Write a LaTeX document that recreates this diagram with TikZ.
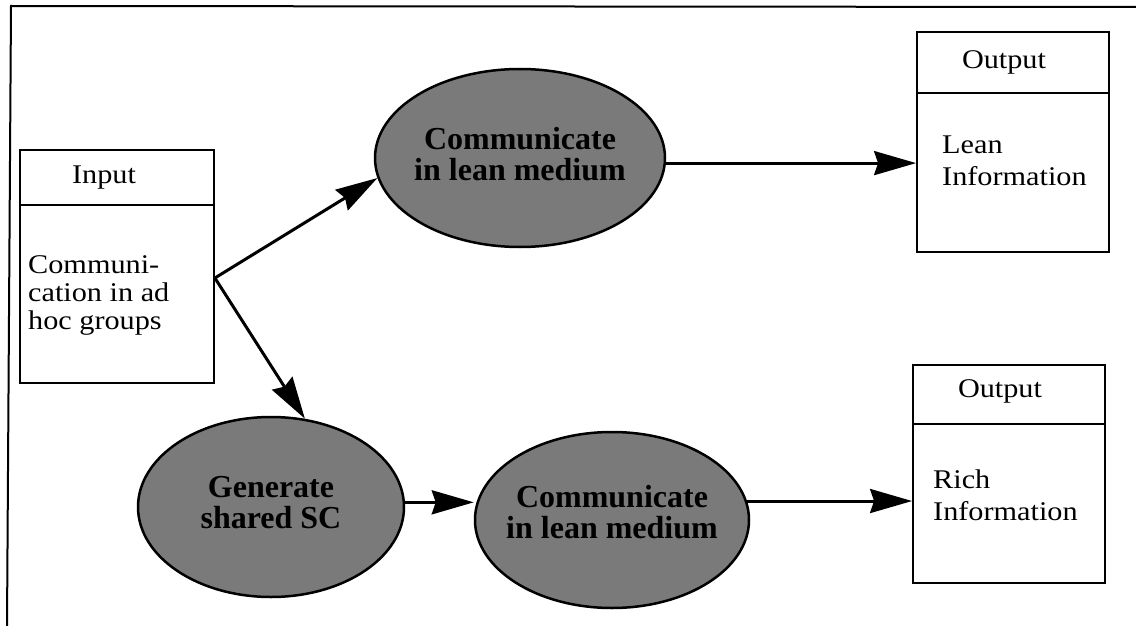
\documentclass[tikz,border=0pt]{standalone}
\usepackage{fontspec}
\setmainfont{Liberation Serif}
\newfontfamily\boxfont[FakeStretch=1.12]{Liberation Serif}
\usetikzlibrary{arrows.meta,shapes.geometric}
\newcommand\zbox[2]{\makebox[0pt]{\smash{\raisebox{#1}{\begin{tabular}{@{}c@{}}#2\end{tabular}}}}}
\begin{document}
\begin{tikzpicture}[x=1pt,y=-1pt,
  boxst/.style={draw, line width=1.8pt, inner sep=0pt},
  divider/.style={line width=1.8pt},
  ell/.style={ellipse, draw, line width=2.5pt, fill=black!52, inner sep=0pt,
    font=\fontsize{32}{30}\selectfont\bfseries, text=black},
  arr/.style={line width=3pt, -{Stealth[length=42pt,width=24pt,inset=4pt]}},
  title/.style={font=\boxfont\fontsize{27}{32}\selectfont, inner sep=0pt},
  body/.style={align=left, anchor=base west, inner sep=0pt}]
\useasboundingbox (0,0) rectangle (1136,626);
% frame (top and left edges)
\draw[line width=2pt] (7,626) -- (11,6) -- (1136,7);
% input box
\node[boxst, minimum width=194pt, minimum height=233pt] (in) at (117,266.5) {};
\draw[divider] (in.west |- 0,205) -- (in.east |- 0,205);
\node[title] (inT) at (104,178) {Input};
\node[body, font=\boxfont\fontsize{27}{28}\selectfont] (inB) at (28,329) {Communi-\\cation in ad\\hoc groups};
% output boxes
\node[boxst, minimum width=192pt, minimum height=220pt] (out1) at (1013,142) {};
\draw[divider] (out1.west |- 0,93) -- (out1.east |- 0,93);
\node[title] (out1T) at (1004,62) {Output};
\node[body, font=\boxfont\fontsize{27}{32}\selectfont] (out1B) at (942,185) {Lean\\Information};
\node[boxst, minimum width=192pt, minimum height=218pt] (out2) at (1009,474) {};
\draw[divider] (out2.west |- 0,424) -- (out2.east |- 0,424);
\node[title] (out2T) at (1000,391) {Output};
\node[body, font=\boxfont\fontsize{27}{32}\selectfont] (out2B) at (933,520) {Rich\\Information};
% ellipses
\node[ell, minimum width=290pt, minimum height=178pt] (up) at (520,158)
  {\zbox{-7pt}{Communicate\\in lean medium}};
\node[ell, minimum width=266pt, minimum height=180pt] (gen) at (271,507)
  {\zbox{-6pt}{Generate\\shared SC}};
\node[ell, minimum width=274pt, minimum height=176pt] (low) at (612,520)
  {\zbox{-3pt}{Communicate\\in lean medium}};
% connectors
\coordinate (fork) at ([yshift=-11.5pt]in.east);
\draw[arr] (fork) -- (up.188);
\draw[arr] (fork) -- (gen.69);
\draw[arr] (up.-2) -- (up.-2 -| out1.west);
\draw[arr] (gen.2) -- (gen.2 -| low.west);
\draw[arr] (low.8) -- (low.8 -| out2.west);
\end{tikzpicture}
\end{document}
